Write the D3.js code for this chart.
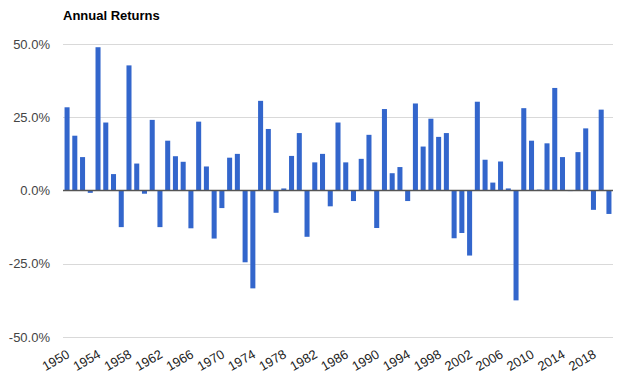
<!DOCTYPE html>
<html>
<head>
<meta charset="utf-8">
<script src="https://cdn.jsdelivr.net/npm/d3@7"></script>
<style>
  body { margin: 0; background: #fff; }
  text { font-family: Arial, "Liberation Sans", sans-serif; }
</style>
</head>
<body>
<script>
'use strict';

// years shown on the x axis
const years = d3.range(1950, 2021);

// annual returns in percent, one per year
const returns = [
  28.4, 18.7, 11.4, -0.8, 48.9, 23.2, 5.6, -12.5, 42.7, 9.2,
  -1.1, 24.1, -12.5, 17.0, 11.7, 9.8, -12.9, 23.5, 8.2, -16.4,
  -6.0, 11.2, 12.5, -24.5, -33.4, 30.6, 21.0, -7.6, 0.7, 11.8,
  19.6, -15.8, 9.6, 12.5, -5.4, 23.2, 9.6, -3.6, 10.8, 19.0,
  -12.8, 27.8, 5.9, 8.0, -3.6, 29.7, 15.0, 24.5, 18.3, 19.6,
  -16.3, -14.5, -22.2, 30.3, 10.5, 2.7, 9.9, 0.7, -37.5, 28.1,
  17.0, 0.3, 16.1, 35.0, 11.4, -0.2, 13.1, 21.2, -6.6, 27.6,
  -8.0
];

// y tick values and the years that get a label
const yTicks = [50, 25, 0, -25, -50];
const xLabelYears = d3.range(1950, 2021, 4);

(function() {
  let svg = d3.select('body')
    .append('svg')
    .attr('width', 628)
    .attr('height', 380);

  // plot area
  let left = 63, right = 613, top = 44, bottom = 337;

  let xScale = d3.scaleBand()
    .domain(years)
    .range([left, right])
    .paddingInner(0.35)
    .paddingOuter(0.2);

  let yScale = d3.scaleLinear()
    .domain([-50, 50])
    .range([bottom, top]);

  // horizontal gridlines
  svg.append('g')
    .selectAll('line')
    .data(yTicks.filter(d => d !== 0))
    .enter()
    .append('line')
      .attr('x1', left)
      .attr('x2', right)
      .attr('y1', d => Math.round(yScale(d)) + 0.5)
      .attr('y2', d => Math.round(yScale(d)) + 0.5)
      .attr('stroke', '#d9d9d9')
      .attr('stroke-width', 1);

  // y axis labels
  svg.append('g')
    .selectAll('text')
    .data(yTicks)
    .enter()
    .append('text')
      .attr('x', 50)
      .attr('y', d => yScale(d))
      .attr('dy', '0.35em')
      .attr('text-anchor', 'end')
      .style('font-size', '13px')
      .style('fill', '#444')
      .text(d => d.toFixed(1) + '%');

  // bars
  svg.append('g')
    .selectAll('rect')
    .data(years)
    .enter()
    .append('rect')
      .attr('x', d => xScale(d))
      .attr('width', xScale.bandwidth())
      .attr('y', (d, i) => yScale(Math.max(0, returns[i])))
      .attr('height', (d, i) => Math.abs(yScale(returns[i]) - yScale(0)))
      .attr('fill', '#3366cc');

  // zero baseline
  svg.append('line')
    .attr('x1', left)
    .attr('x2', right)
    .attr('y1', yScale(0))
    .attr('y2', yScale(0))
    .attr('stroke', '#555')
    .attr('stroke-width', 1.5);

  // rotated year labels
  svg.append('g')
    .selectAll('text')
    .data(xLabelYears)
    .enter()
    .append('text')
      .attr('transform', d =>
        'translate(' + (xScale(d) + xScale.bandwidth() / 2 - 1) + ',' + 349 + ')rotate(-30)')
      .attr('text-anchor', 'end')
      .attr('dy', '0.7em')
      .style('font-size', '13px')
      .style('fill', '#222')
      .text(d => d);

  // title
  svg.append('text')
    .attr('x', 63)
    .attr('y', 20)
    .style('font-size', '13px')
    .style('font-weight', 'bold')
    .style('fill', '#000')
    .text('Annual Returns');
})();
</script>
</body>
</html>
